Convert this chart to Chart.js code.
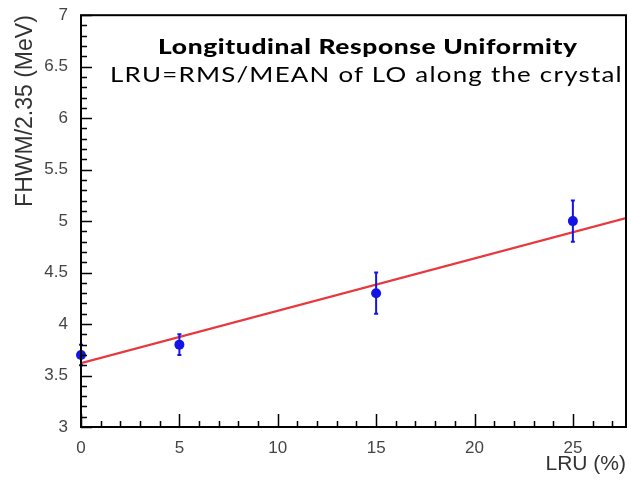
<!DOCTYPE html>
<html>
<head>
<meta charset="utf-8">
<script src="https://cdn.jsdelivr.net/npm/chart.js@4/dist/chart.umd.min.js"></script>
<style>
  body { margin: 0; background: #fff; }
  #wrap { position: relative; width: 631px; height: 481px; }
  .note { position: absolute; white-space: nowrap; color: #000; line-height: normal;
          font-family: "Lato", "Open Sans", sans-serif; font-size: 21px; transform-origin: 0 0; }
  #t1 { left: 158px; top: 33px; font-weight: 900; letter-spacing: 0.5px; }
  #t2 { left: 110px; top: 61px; letter-spacing: 1px; }
</style>
</head>
<body>
<div id="wrap">
  <canvas id="chart" width="631" height="481"></canvas>
  <div class="note" id="t1" data-w="420">Longitudinal Response Uniformity</div>
  <div class="note" id="t2" data-w="513">LRU=RMS/MEAN of LO along the crystal</div>
</div>
<script>
// 数据点：LRU (%) 与 FWHM/2.35 (MeV)
const lruX = [0, 5, 15, 25];
const fwhmY = [3.7, 3.8, 4.3, 5.0];
const fwhmErr = [0.1, 0.1, 0.2, 0.2];

// 线性拟合线的两个端点
const fitX = [0, 27.7];
const fitY = [3.62, 5.03];

// 坐标轴范围
const xRange = [0, 27.7];
const yRange = [3, 7];

// 标题文字横向拉宽，模仿原图较宽的字体
document.querySelectorAll('.note').forEach(function(el) {
    const target = parseFloat(el.dataset.w);
    el.style.transform = 'scaleX(' + (target / el.offsetWidth) + ')';
});

// 误差棒 + 边框 + 内向刻度（ROOT 风格）
const rootStyle = {
    id: 'rootStyle',
    afterDatasetsDraw(chart) {
        const ctx = chart.ctx;
        const xs = chart.scales.x, ys = chart.scales.y;
        const area = chart.chartArea;

        // 误差棒
        ctx.save();
        ctx.strokeStyle = '#1414e6';
        ctx.lineWidth = 2;
        lruX.forEach(function(x, i) {
            const px = xs.getPixelForValue(x);
            const top = ys.getPixelForValue(fwhmY[i] + fwhmErr[i]);
            const bot = ys.getPixelForValue(fwhmY[i] - fwhmErr[i]);
            ctx.beginPath();
            ctx.moveTo(px, top); ctx.lineTo(px, bot);
            ctx.moveTo(px - 2, top); ctx.lineTo(px + 2, top);
            ctx.moveTo(px - 2, bot); ctx.lineTo(px + 2, bot);
            ctx.stroke();
        });
        ctx.restore();

        // 边框
        ctx.save();
        ctx.strokeStyle = '#000';
        ctx.lineWidth = 2;
        ctx.strokeRect(area.left, area.top, area.right - area.left, area.bottom - area.top);

        // 刻度
        ctx.lineWidth = 1.5;
        ctx.beginPath();
        for (let i = 0; xs.min + i <= xs.max + 1e-9; i++) {
            const px = Math.round(xs.getPixelForValue(xs.min + i)) + 0.5;
            const len = i % 5 === 0 ? 13 : 6;
            ctx.moveTo(px, area.bottom);
            ctx.lineTo(px, area.bottom - len);
        }
        for (let i = 0; ys.min + i * 0.1 <= ys.max + 1e-9; i++) {
            const py = Math.round(ys.getPixelForValue(ys.min + i * 0.1)) + 0.5;
            const len = i % 5 === 0 ? 11 : 6;
            ctx.moveTo(area.left, py);
            ctx.lineTo(area.left + len, py);
        }
        ctx.stroke();
        ctx.restore();
    }
};

const tickFont = { family: '"Liberation Sans", Arial, sans-serif', size: 17 };

new Chart(document.getElementById('chart'), {
    type: 'scatter',
    data: {
        datasets: [
            {
                label: 'data',
                data: lruX.map(function(x, i) { return { x: x, y: fwhmY[i] }; }),
                backgroundColor: '#1414e6',
                borderWidth: 0,
                pointRadius: 5,
                clip: false,
                order: 0
            },
            {
                label: 'fit',
                type: 'line',
                data: fitX.map(function(x, i) { return { x: x, y: fitY[i] }; }),
                borderColor: '#e8383d',
                borderWidth: 2.2,
                pointRadius: 0,
                order: 1
            }
        ]
    },
    options: {
        responsive: false,
        animation: false,
        layout: { padding: { top: 15, right: 3, left: 0, bottom: 0 } },
        plugins: {
            legend: { display: false },
            tooltip: { enabled: false }
        },
        scales: {
            x: {
                type: 'linear',
                min: xRange[0],
                max: xRange[1],
                grid: { display: false },
                border: { display: false },
                ticks: { stepSize: 5, includeBounds: false, font: tickFont, color: '#444', padding: 3 },
                title: {
                    display: true, text: 'LRU (%)', align: 'end', color: '#333',
                    font: { family: '"Liberation Sans", Arial, sans-serif', size: 21 },
                    padding: { top: 0, bottom: 4 }
                },
                afterFit: function(scale) { scale.height = 54; }
            },
            y: {
                type: 'linear',
                min: yRange[0],
                max: yRange[1],
                grid: { display: false },
                border: { display: false },
                ticks: {
                    stepSize: 0.5, font: tickFont, color: '#444', padding: 5,
                    callback: function(value) { return String(Number(value.toFixed(1))); }
                },
                title: {
                    display: true, text: 'FHWM/2.35 (MeV)', align: 'end', color: '#333',
                    font: { family: '"Liberation Sans", Arial, sans-serif', size: 23 },
                    padding: { top: 12, bottom: 0 }
                },
                afterFit: function(scale) { scale.width = 81; }
            }
        }
    },
    plugins: [rootStyle]
});
</script>
</body>
</html>
